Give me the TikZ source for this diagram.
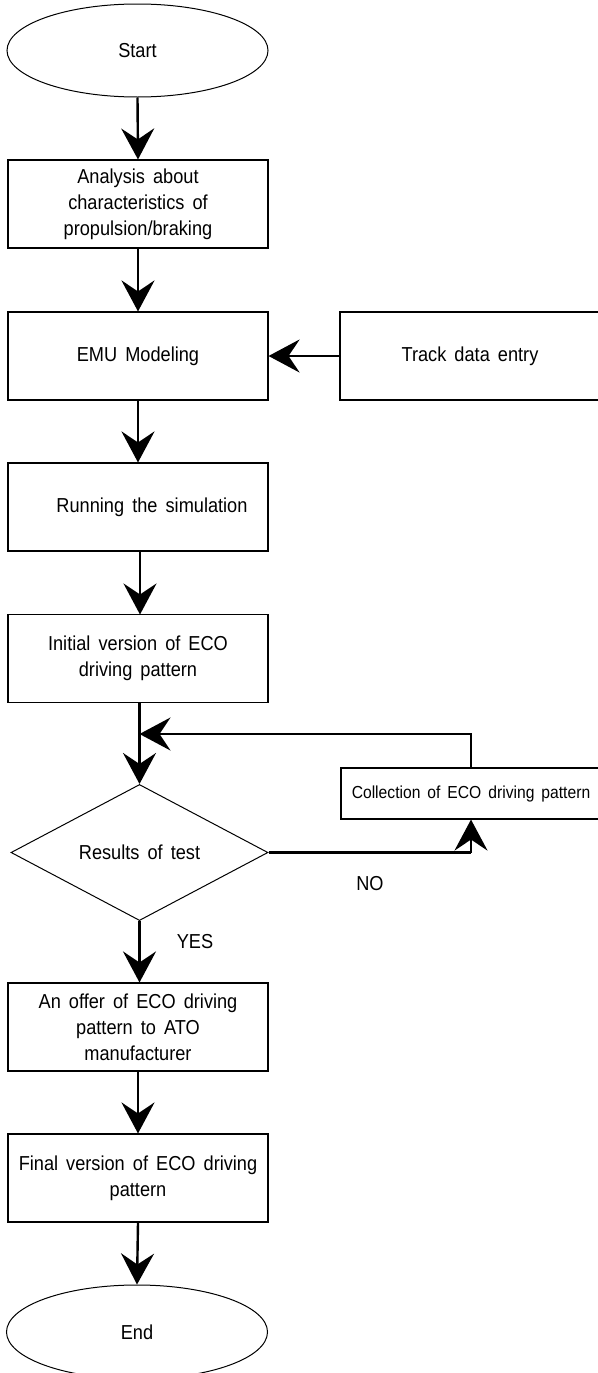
\documentclass[tikz,border=0pt]{standalone}
\usepackage{fontspec}
\setmainfont{Liberation Sans}[WordSpace=1.6, FakeStretch=0.9]
\usetikzlibrary{arrows.meta,shapes.geometric}
\begin{document}
\begin{tikzpicture}[x=1pt,y=-1pt,
  every node/.style={font=\fontsize{20.2}{26}\selectfont, text=black},
  procbox/.style={draw=black, line width=1.1pt, rectangle, inner sep=0pt,
    minimum width=260pt, minimum height=88pt, align=center},
  termnode/.style={draw=black, line width=1pt, ellipse, inner sep=0pt,
    minimum width=261pt, minimum height=93pt},
  decnode/.style={draw=black, line width=1pt, diamond, inner sep=0pt,
    minimum width=257pt, minimum height=129pt},
  flow/.style={line width=2.4pt, -{Stealth[length=31pt, width=33pt, inset=11pt]}},
  plainline/.style={line width=2.4pt}
]
\useasboundingbox (0,0) rectangle (597,1373);
\fill[white] (0,0) rectangle (597,1373);

\node[termnode] (start) at (137.5,50.5) {Start};
\node[procbox] (b1) at (138,204) {Analysis about\\characteristics of\\propulsion/braking};
\node[procbox] (b2) at (138,356) {EMU Modeling};
\node[procbox] (track) at (470,356) {Track data entry};
\node[procbox] (b3) at (138,507) {};
\node at (152,507) {Running the simulation};
\node[procbox] (b4) at (138,658.5) {Initial version of ECO\\driving pattern};
\node[decnode] (dec) at (139.5,852.5) {Results of test};
\node[procbox, minimum width=260pt, minimum height=51pt,
  font=\fontsize{17.4}{22}\selectfont] (col) at (471,793.5) {Collection of ECO driving pattern};
\node[procbox] (b5) at (138,1027) {An offer of ECO driving\\pattern to ATO\\manufacturer};
\node[procbox] (b6) at (138,1178) {Final version of ECO driving\\pattern};
\node[termnode, minimum height=94pt] (end) at (137,1332) {End};

\node (no) at (370,884) {NO};
\node (yes) at (195,942) {YES};

\coordinate (fb) at (139.5,734);

\draw[flow] (start.south) -- (b1.north);
\draw[flow] (b1.south) -- (b2.north);
\draw[flow] (track.west) -- (b2.east);
\draw[flow] (b2.south) -- (b3.north);
\draw[flow] (140,551) -- (140,614.5);
\draw[flow] (139.5,702.5) -- (dec.north);
\draw[flow] (col.north) |- (fb);
\draw[plainline] (dec.east) -- (dec.east -| col.south);
\draw[flow] (dec.east -| col.south) -- (col.south);
\draw[flow] (dec.south) -- (b5.north -| dec.south);
\draw[flow] (b5.south) -- (b6.north);
\draw[flow] (b6.south) -- (end.north);
\end{tikzpicture}
\end{document}
